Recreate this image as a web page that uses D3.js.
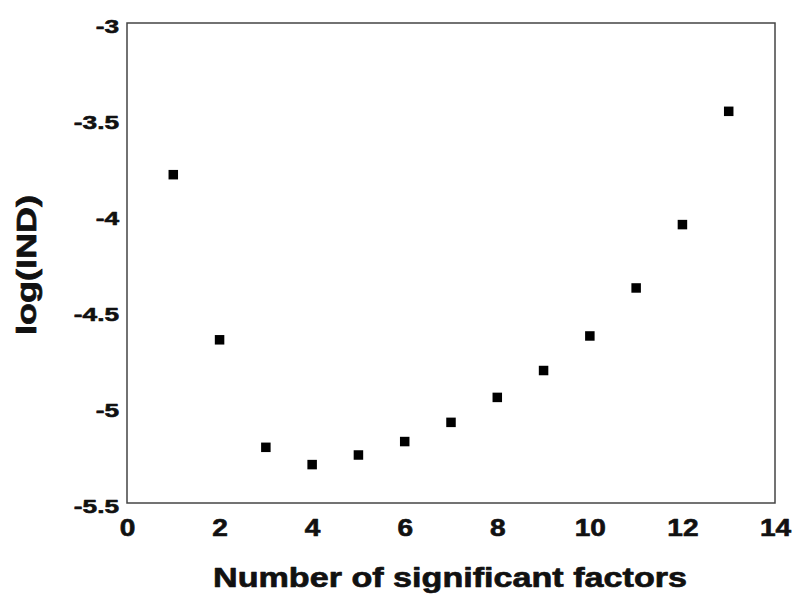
<!DOCTYPE html>
<html>
<head>
<meta charset="utf-8">
<script src="https://cdn.jsdelivr.net/npm/d3@7"></script>
<style>
  html, body { margin: 0; padding: 0; background: #fff; }
  svg { display: block; }
  text { font-family: "Liberation Sans", Arial, Helvetica, sans-serif; font-weight: bold; fill: #111; }
</style>
</head>
<body>
<svg id="chart" width="793" height="598"></svg>
<script>
// Number of significant factors and the indicator function value log(IND)
const factors = [1, 2, 3, 4, 5, 6, 7, 8, 9, 10, 11, 12, 13];
const logIND = [-3.79, -4.65, -5.21, -5.30, -5.25, -5.18, -5.08, -4.95, -4.81, -4.63, -4.38, -4.05, -3.46];

const xTicks = [0, 2, 4, 6, 8, 10, 12, 14];
const yTicks = [-3, -3.5, -4, -4.5, -5, -5.5];
const yTickLabels = ["-3", "-3.5", "-4", "-4.5", "-5", "-5.5"];

const xTitle = "Number of significant factors";
const yTitle = "log(IND)";

const margin = { left: 127, right: 18, top: 23, bottom: 95 };
const W = 793, H = 598;

const svg = d3.select("#chart");

const x = d3.scaleLinear().domain([0, 14]).range([margin.left, W - margin.right]);
const y = d3.scaleLinear().domain([-5.5, -3]).range([H - margin.bottom, margin.top]);

// heavy label style shared by ticks and titles
function heavy(sel, size, sw) {
  sel.style("font-size", size + "px")
    .style("font-family", "'Liberation Sans', Arial, sans-serif")
    .style("font-weight", "bold")
    .attr("fill", "#111")
    .attr("stroke", "#111")
    .attr("stroke-width", sw)
    .attr("stroke-linejoin", "round");
}

// widen a label horizontally, keeping its anchor
function widen(sel, k) {
  sel.each(function () {
    const len = this.getComputedTextLength();
    d3.select(this).attr("textLength", len * k).attr("lengthAdjust", "spacingAndGlyphs");
  });
}

// frame around the plotting area
svg.append("rect")
  .attr("x", x(0)).attr("y", y(-3))
  .attr("width", x(14) - x(0)).attr("height", y(-5.5) - y(-3))
  .attr("fill", "none").attr("stroke", "#444").attr("stroke-width", 1.5);

// x axis: labels only, no tick marks
const xAxis = d3.axisBottom(x).tickValues(xTicks).tickSize(0).tickPadding(0).tickFormat(d3.format("d"));
const gx = svg.append("g").attr("transform", `translate(0,${y(-5.5)})`).call(xAxis);
gx.select(".domain").remove();
gx.selectAll("text")
  .attr("y", 0).attr("dy", 0)
  .attr("transform", "translate(0,33)")
  .call(heavy, 23, 0.6)
  .call(widen, 1.22);

// y axis: labels only, no tick marks
const yAxis = d3.axisLeft(y).tickValues(yTicks).tickSize(0).tickPadding(0)
  .tickFormat((d, i) => yTickLabels[i]);
const gy = svg.append("g").attr("transform", `translate(${x(0) - 8},0)`).call(yAxis);
gy.select(".domain").remove();
gy.selectAll("text")
  .attr("x", 0).attr("dy", "0.5em")
  .call(heavy, 19, 0.6)
  .call(widen, 1.38);

// data markers: filled squares
const s = 9.5;
svg.append("g").selectAll("rect")
  .data(factors.map((f, i) => ({ f, v: logIND[i] })))
  .join("rect")
  .attr("x", d => x(d.f) - s / 2)
  .attr("y", d => y(d.v) - s / 2)
  .attr("width", s).attr("height", s)
  .attr("fill", "#000");

// axis titles
svg.append("text")
  .attr("x", 450).attr("y", 587)
  .attr("text-anchor", "middle")
  .attr("textLength", 474).attr("lengthAdjust", "spacingAndGlyphs")
  .call(heavy, 28.5, 0.7)
  .text(xTitle);

svg.append("text")
  .attr("transform", `translate(36,265) rotate(-90)`)
  .attr("text-anchor", "middle")
  .attr("textLength", 140).attr("lengthAdjust", "spacingAndGlyphs")
  .call(heavy, 28, 0.7)
  .text(yTitle);
</script>
</body>
</html>
